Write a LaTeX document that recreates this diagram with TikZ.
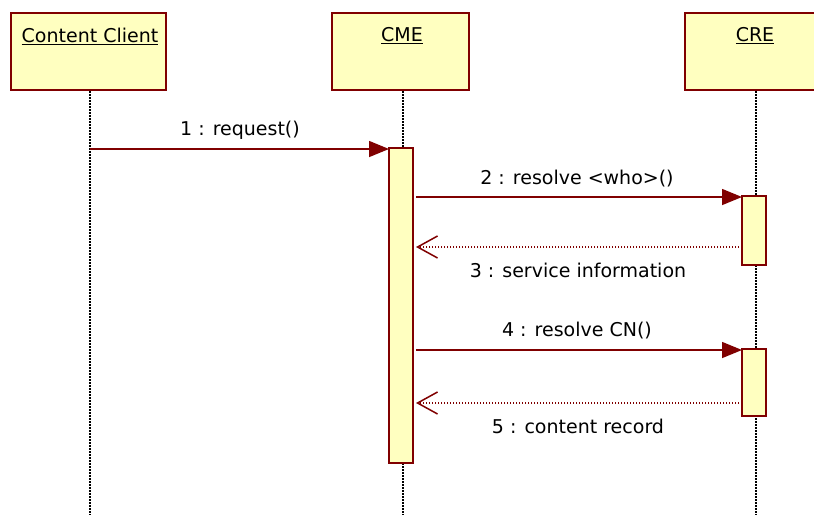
\documentclass[tikz,border=0pt]{standalone}
\usepackage{fontspec}
\setmainfont{DejaVu Sans}
\usetikzlibrary{arrows.meta}
\definecolor{umlred}{HTML}{800000}
\definecolor{umlfill}{HTML}{FFFFC0}
\tikzset{
  objbox/.style={draw=umlred, fill=umlfill, line width=2pt},
  actbar/.style={draw=umlred, fill=umlfill, line width=1.8pt},
  lifeline/.style={black, line width=1.5pt, dash pattern=on 1.5pt off 1.5pt},
  callmsg/.style={umlred, line width=1.5pt, -{Triangle[length=20pt,width=16pt]}},
  retmsg/.style={umlred, line width=1.5pt, dash pattern=on 1.5pt off 1.5pt, -{Straight Barb[length=20pt,width=22pt,line width=1.5pt]}},
  objname/.style={font=\fontsize{19}{22}\selectfont, inner sep=0pt},
  msglabel/.style={font=\fontsize{19}{22}\selectfont, inner sep=0pt}
}
\begin{document}
\begin{tikzpicture}[x=1pt, y=-1pt]
\useasboundingbox (0,0) rectangle (814,515);
\begin{scope}
\clip (0,0) rectangle (814,515);
% lifelines
\draw[lifeline] (90,91) -- (90,515);
\draw[lifeline] (403,91) -- (403,515);
\draw[lifeline] (756,91) -- (756,515);
% object boxes
\draw[objbox] (11,13) rectangle (166,90);
\draw[objbox] (332,13) rectangle (469,90);
\draw[objbox] (685,13) rectangle (830,90);
\node[objname] (cc) at (90,36) {\underline{Content Client}};
\node[objname] (cme) at (402,36) {\underline{CME}};
\node[objname] (cre) at (755,36) {\underline{CRE}};
% activation bars
\node[actbar, minimum width=24pt, minimum height=315pt, inner sep=0pt] (a0) at (401,305.5) {};
\node[actbar, minimum width=24pt, minimum height=69pt, inner sep=0pt] (a1) at (754,230.5) {};
\node[actbar, minimum width=24pt, minimum height=67pt, inner sep=0pt] (a2) at (754,382.5) {};
% message anchors
\coordinate (m1s) at (90,149);
\coordinate (m1e) at (389,149);
\coordinate (m2s) at (416,197);
\coordinate (m2e) at (742,197);
\coordinate (m3s) at (742,247);
\coordinate (m3e) at (416,247);
\coordinate (m4s) at (416,350);
\coordinate (m4e) at (742,350);
\coordinate (m5s) at (742,403);
\coordinate (m5e) at (416,403);
% messages
\draw[callmsg] (m1s) -- (m1e);
\draw[callmsg] (m2s) -- (m2e);
\draw[retmsg] (m3s) -- (m3e);
\draw[callmsg] (m4s) -- (m4e);
\draw[retmsg] (m5s) -- (m5e);
% labels
\node[msglabel] (l1) at (240,130) {1 : request()};
\node[msglabel] (l2) at (577,179) {2 : resolve <who>()};
\node[msglabel] (l3) at (578,270) {3 : service information};
\node[msglabel] (l4) at (577,331) {4 : resolve CN()};
\node[msglabel] (l5) at (578,426) {5 : content record};
\end{scope}
\end{tikzpicture}
\end{document}
